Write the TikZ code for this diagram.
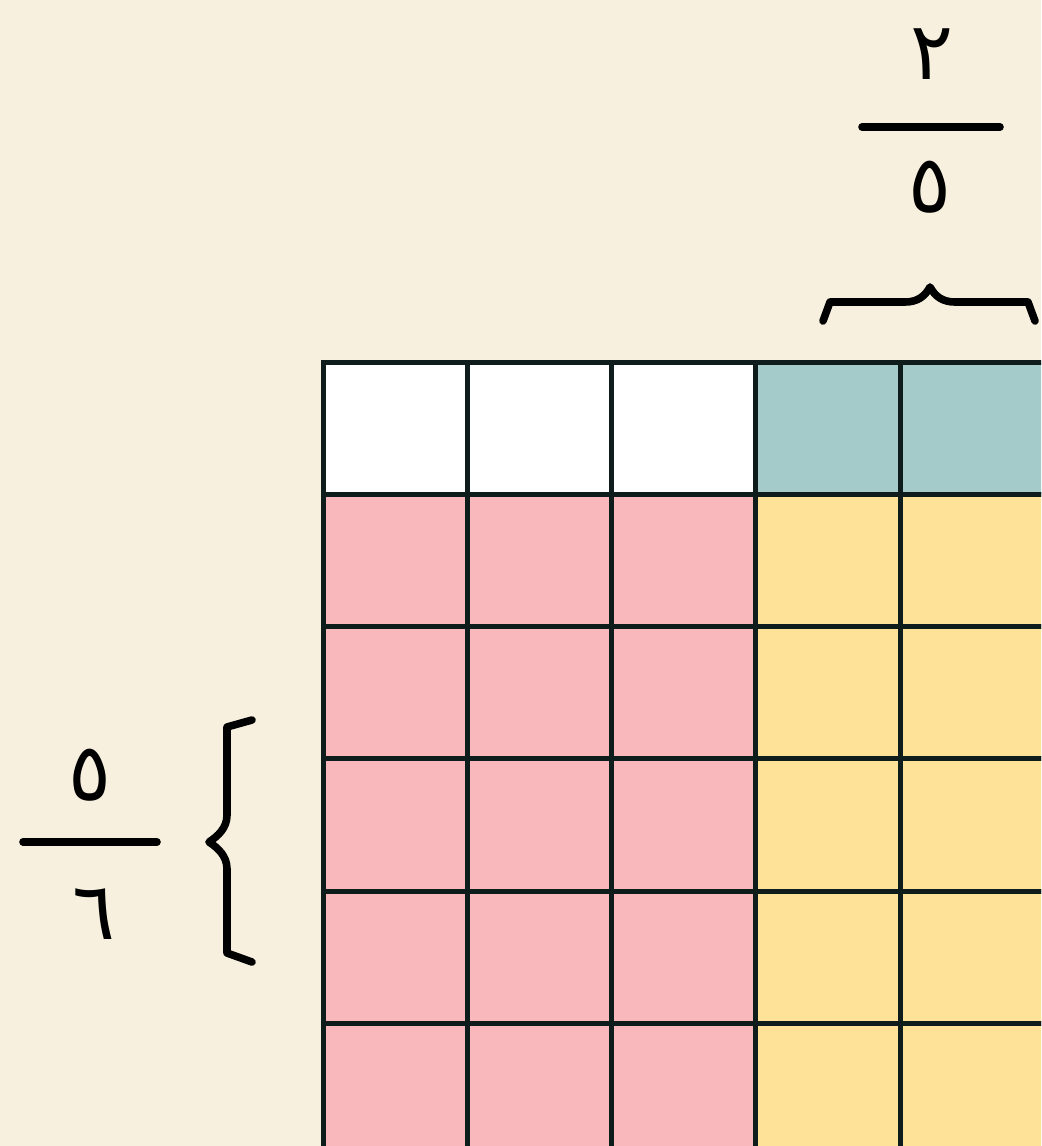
\documentclass[tikz,border=0pt]{standalone}
\usepackage{fontspec}
\newfontfamily\arabicfont[Script=Arabic]{DejaVu Sans}
\definecolor{paper}{HTML}{F7F0DE}
\definecolor{tealcell}{HTML}{A5CACA}
\definecolor{pinkcell}{HTML}{F9B8BC}
\definecolor{yellowcell}{HTML}{FDE298}
\definecolor{gridline}{HTML}{0E1C1C}
\tikzset{
  cell/.style={rectangle,draw=gridline,line width=2.5pt,minimum width=72.15pt,minimum height=66.15pt,inner sep=0pt,outer sep=0pt},
  digit/.style={inner sep=0pt,font=\fontsize{40}{48}\selectfont\arabicfont},
  hand/.style={line width=3.8pt,line cap=round,line join=round}
}
\begin{document}
\begin{tikzpicture}[x=0.5pt,y=-0.5pt]
\useasboundingbox (0,0) rectangle (1041,1146);
\fill[paper] (0,0) rectangle (1041,1146);
\clip (0,0) rectangle (1041,1146);

% grid of cells
\foreach \c/\col in {1/white,2/white,3/white,4/tealcell,5/tealcell}
  \node[cell,fill=\col] (c-1-\c) at ({323+72.15+(\c-1)*144.3},{362+66.15}) {};
\foreach \r in {2,...,6}
  \foreach \c/\col in {1/pinkcell,2/pinkcell,3/pinkcell,4/yellowcell,5/yellowcell}
    \node[cell,fill=\col] (c-\r-\c) at ({323+72.15+(\c-1)*144.3},{362+66.15+(\r-1)*132.3}) {};

% top fraction
\node[digit] (topnum) at (932,54) {٢};
\node[digit] (topden) at (930,187) {٥};
\coordinate (topbarL) at (862,127);
\coordinate (topbarR) at (1000,127);
\draw[hand] (topbarL) -- (topbarR);

% top brace
\coordinate (tb1) at (823,321);
\coordinate (tb2) at (1035,321);
\draw[hand] (tb1) -- (830,302) -- (905,302) .. controls (918,302) and (925,296) .. (930,287)
  .. controls (935,296) and (942,302) .. (955,302) -- (1028,302) -- (tb2);

% left fraction
\node[digit] (leftnum) at (90,775) {٥};
\node[digit] (leftden) at (94,914) {٦};
\coordinate (leftbarL) at (23,842);
\coordinate (leftbarR) at (157,842);
\draw[hand] (leftbarL) -- (leftbarR);

% left brace
\coordinate (lb1) at (252,720);
\coordinate (lb2) at (252,962);
\draw[hand] (lb1) -- (227,727) -- (227,815) .. controls (227,828) and (218,836) .. (209,842)
  .. controls (218,848) and (227,856) .. (227,869) -- (227,953) -- (lb2);
\end{tikzpicture}
\end{document}
